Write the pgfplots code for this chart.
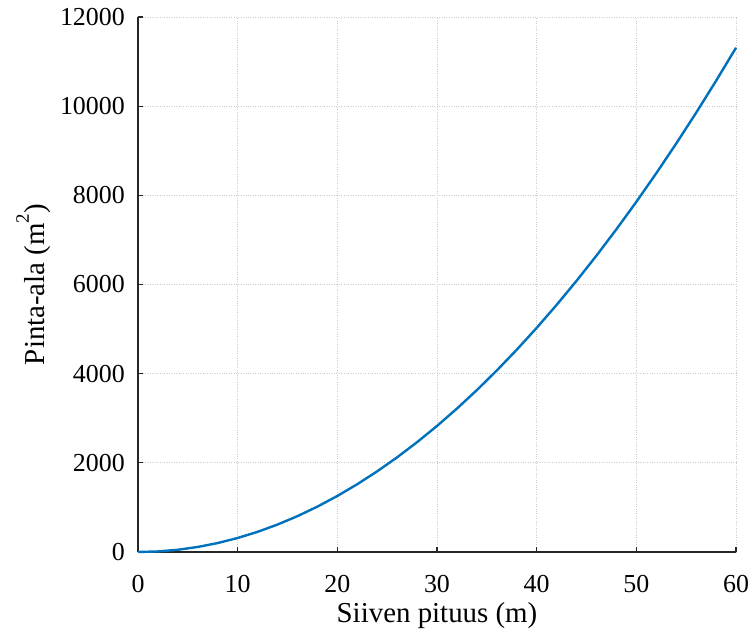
\documentclass[border=0pt]{standalone}
\usepackage{pgfplots}
\pgfplotsset{compat=1.18}
\usepackage{fontspec}
\setmainfont{Liberation Serif}
\definecolor{mblue}{RGB}{0,114,189}
\begin{document}
\fontsize{26}{30}\selectfont
\begin{tikzpicture}
\begin{axis}[
  scale only axis,
  width=598bp, height=535bp,
  xmin=0, xmax=60, ymin=0, ymax=12000,
  xtick={0,10,...,60},
  ytick={0,2000,...,12000},
  scaled ticks=false,
  axis x line*=bottom, axis y line*=left,
  axis line style={line width=1.2bp, black!85},
  tick style={line width=1.2bp, black!85},
  tick align=inside,
  major tick length=5bp,
  grid=major,
  grid style={dotted, line width=0.8bp, gray!40},
  /pgf/number format/1000 sep={},
  /pgf/number format/assume math mode=true,
  tick label style={font=\fontsize{26}{30}\selectfont, inner sep=0pt},
  xticklabel style={anchor=north, yshift=-23bp},
  yticklabel style={anchor=east, xshift=-13bp},
  xlabel={Siiven pituus (m)},
  ylabel={Pinta-ala (m\raisebox{16bp}{\fontsize{19}{19}\selectfont 2})},
  every axis x label/.style={at={(axis description cs:0.5,0)}, anchor=base, yshift=-70bp, font=\fontsize{29}{33}\selectfont, inner sep=0pt},
  every axis y label/.style={at={(axis description cs:0,0.5)}, anchor=base, rotate=90, yshift=93bp, font=\fontsize{29}{33}\selectfont, inner sep=0pt},
  clip=false,
]
\addplot[mblue, line width=2.4bp] coordinates {
(0,0) (2,12.566) (4,50.265) (6,113.097) (8,201.062) (10,314.159)
(12,452.389) (14,615.752) (16,804.248) (18,1017.876) (20,1256.637)
(22,1520.531) (24,1809.557) (26,2123.717) (28,2463.009) (30,2827.433)
(32,3216.991) (34,3631.681) (36,4071.504) (38,4536.460) (40,5026.548)
(42,5541.769) (44,6082.123) (46,6647.610) (48,7238.229) (50,7853.982)
(52,8494.867) (54,9160.884) (56,9852.034) (58,10568.318) (60,11309.734)
};
\end{axis}
\pgfresetboundingbox
\path (-138bp,-82bp) rectangle (612bp,552bp);
\end{tikzpicture}
\end{document}
